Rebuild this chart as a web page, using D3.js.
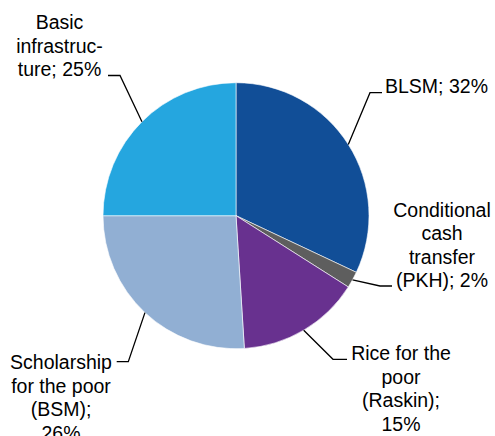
<!DOCTYPE html>
<html lang="en">
<head>
    <meta charset="UTF-8">
    <title>Social programmes share</title>
    <script src="https://d3js.org/d3.v7.min.js"></script>
    <style>
        body { margin: 0; background: #fff; }
        .label { font-family: "Liberation Sans", Arial, sans-serif; font-size: 19.5px; fill: #000; }
        .leader { fill: none; stroke: #000; stroke-width: 1.3; }
    </style>
</head>
<body>
    <div id="chart"></div>
    <script>
        // data, clockwise from 12 o'clock
        const programs = ["BLSM", "Conditional cash transfer (PKH)", "Rice for the poor (Raskin)", "Scholarship for the poor (BSM)", "Basic infrastructure"];
        const shares = [32, 2, 15, 26, 25];
        const labelLines = [
            ["BLSM; 32%"],
            ["Conditional", "cash", "transfer", "(PKH); 2%"],
            ["Rice for the", "poor", "(Raskin);", "15%"],
            ["Scholarship", "for the poor", "(BSM);", "26%"],
            ["Basic", "infrastruc-", "ture; 25%"]
        ];
        const colors = ["#114e97", "#5e5e5e", "#68318f", "#91afd3", "#25a6df"];

        const width = 495, height = 436;
        const cx = 236, cy = 215.7, radius = 133;
        const lineH = 23.5;

        // label layout: text anchor x, first baseline, leader elbow and end
        const layout = [
            { x: 385, y: 93, anchor: "start", elbow: [370, 92.7], end: [382, 92.7] },
            { x: 442, y: 216.7, anchor: "middle", elbow: [380, 286], end: [392, 286] },
            { x: 401, y: 360, anchor: "middle", elbow: [333, 359.3], end: [347, 359.3] },
            { x: 61, y: 369, anchor: "middle", elbow: [128.3, 361.7], end: [116.7, 361.7] },
            { x: 59.5, y: 29, anchor: "middle", elbow: [120, 75.5], end: [108, 75.5] }
        ];

        const data = programs.map((p, i) => ({ name: p, value: shares[i], lines: labelLines[i], color: colors[i], pos: layout[i] }));

        const svg = d3.select("#chart")
            .append("svg")
            .attr("width", width)
            .attr("height", height);

        const g = svg.append("g")
            .attr("transform", `translate(${cx},${cy})`);

        const pie = d3.pie()
            .value(d => d.value)
            .sort(null);

        const arc = d3.arc()
            .innerRadius(0)
            .outerRadius(radius);

        const edgeArc = d3.arc()
            .innerRadius(radius)
            .outerRadius(radius);

        const arcs = pie(data);

        g.selectAll(".slice")
            .data(arcs)
            .enter()
            .append("path")
            .attr("class", "slice")
            .attr("d", arc)
            .attr("fill", d => d.data.color)
            .attr("stroke", "#fff")
            .attr("stroke-width", 0.6);

        // leader lines from slice edge to label
        svg.selectAll(".leader")
            .data(arcs)
            .enter()
            .append("polyline")
            .attr("class", "leader")
            .attr("points", d => {
                const [ex, ey] = edgeArc.centroid(d);
                const p = d.data.pos;
                return [[cx + ex, cy + ey], p.elbow, p.end].map(q => q.join(",")).join(" ");
            });

        const labels = svg.selectAll(".label")
            .data(arcs)
            .enter()
            .append("text")
            .attr("class", "label")
            .attr("text-anchor", d => d.data.pos.anchor);

        labels.selectAll("tspan")
            .data(d => d.data.lines.map((t, i) => ({ t, i, pos: d.data.pos })))
            .enter()
            .append("tspan")
            .attr("x", d => d.pos.x)
            .attr("y", d => d.pos.y + d.i * lineH)
            .text(d => d.t);
    </script>
</body>
</html>
